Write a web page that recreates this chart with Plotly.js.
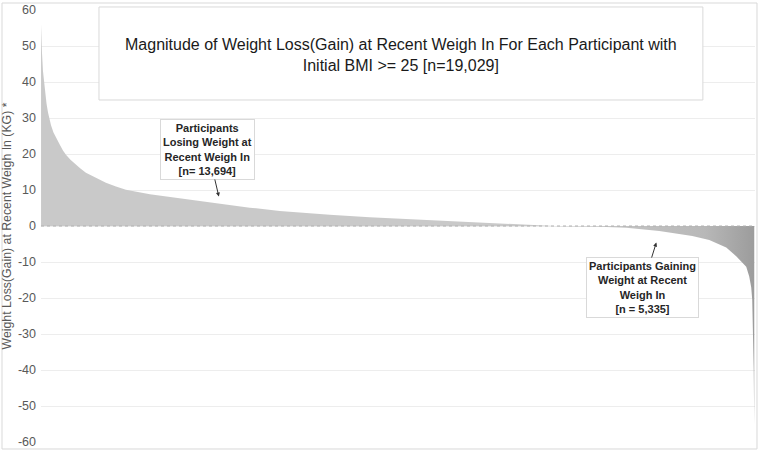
<!DOCTYPE html>
<html>
<head>
<meta charset="utf-8">
<script src="https://cdn.plot.ly/plotly-3.0.1.min.js"></script>
<style>
html,body{margin:0;padding:0;background:#fff;}
#chart{width:760px;height:453px;}
</style>
</head>
<body>
<div id="chart"></div>
<script>
// Participant rank (sorted by weight change) and weight loss(gain) in kg
const participantRank = [1, 8, 27, 53, 80, 107, 147, 187, 227, 267, 333, 400, 506, 586, 666, 786, 906, 1052, 1199, 1466, 1732, 2000, 2265, 2905, 3838, 4690, 5570, 6369, 6902, 7702, 8768, 10367, 11699, 13032, 13378, 13831, 14897, 15617, 16496, 17376, 17829, 18282, 18548, 18815, 18895, 18948, 18975, 19001, 19015, 19029];
const weightLossKg = [56, 53, 48, 43, 40, 37, 34, 31.5, 29.5, 28, 26, 24.5, 22.5, 21, 19.8, 18.4, 17.2, 16, 14.8, 13.3, 12, 11, 10.1, 8.8, 7.5, 6.4, 5.1, 4.2, 3.7, 3.1, 2.4, 1.6, 0.95, 0.3, 0.05, -0.05, -0.2, -0.5, -1.4, -2.8, -3.9, -6, -8.4, -11.3, -14, -17, -20.5, -30, -40, -55];
const yTicks = [-60, -50, -40, -30, -20, -10, 0, 10, 20, 30, 40, 50, 60];
const nTotal = 19029;
const titleText = "Magnitude of Weight Loss(Gain) at Recent Weigh In For Each Participant with<br>Initial BMI >= 25 [n=19,029]";
const yTitleText = "Weight Loss(Gain) at Recent Weigh In (KG) *";
const losingLabel = "Participants<br>Losing Weight at<br>Recent Weigh In<br>[n= 13,694]";
const gainingLabel = "Participants Gaining<br>Weight at Recent<br>Weigh In<br>[n = 5,335]";

const trace = {
  type: 'scatter',
  mode: 'lines',
  x: participantRank,
  y: weightLossKg,
  line: {width: 0, color: '#c8c8c8', shape: 'linear'},
  fill: 'tozeroy',
  fillcolor: '#c9c9c9',
  fillgradient: {
    type: 'horizontal',
    colorscale: [[0, '#c9c9c9'], [0.75, '#c9c9c9'], [0.93, '#b8b8b8'], [1, '#9c9c9c']],
    start: 0,
    stop: nTotal
  },
  hoverinfo: 'skip'
};

const font = "'Liberation Sans', Arial, sans-serif";

const layout = {
  width: 760,
  height: 453,
  margin: {l: 41, r: 5, t: 10, b: 11},
  paper_bgcolor: '#ffffff',
  plot_bgcolor: '#ffffff',
  showlegend: false,
  font: {family: font, color: '#595959', size: 12},
  xaxis: {
    range: [0, nTotal + 20],
    showgrid: false,
    zeroline: false,
    showticklabels: false,
    showline: false,
    ticks: ''
  },
  yaxis: {
    range: [-60, 60],
    tickvals: yTicks,
    ticktext: yTicks.map(String),
    showgrid: true,
    gridcolor: '#ededed',
    gridwidth: 1,
    zeroline: false,
    showline: false,
    ticks: '',
    ticklabelstandoff: 4,
    tickfont: {family: font, size: 12.5, color: '#595959'},
    title: {text: yTitleText, font: {family: font, size: 12.3, color: '#595959'}, standoff: 6}
  },
  shapes: [
    // outer frame
    {type: 'rect', xref: 'paper', yref: 'paper', x0: -0.0546, x1: 1.0028, y0: -0.0162, y1: 1.0162,
     line: {color: '#d9d9d9', width: 1}, fillcolor: 'rgba(0,0,0,0)', layer: 'below'},
    // zero baseline
    {type: 'line', xref: 'paper', yref: 'y', x0: 0, x1: 1, y0: 0, y1: 0,
     line: {color: '#b0b0b0', width: 1, dash: 'dot'}, layer: 'above'},
    // title box
    {type: 'rect', xref: 'paper', yref: 'paper', x0: 0.0812, x1: 0.927, y0: 0.7917, y1: 1.007,
     line: {color: '#d9d9d9', width: 1}, fillcolor: '#ffffff', layer: 'above'}
  ],
  annotations: [
    {xref: 'paper', yref: 'paper', x: 0.504, y: 0.896, xanchor: 'center', yanchor: 'middle',
     text: titleText, showarrow: false, align: 'center',
     font: {family: font, size: 16, color: '#1a1a1a'}},
    {x: 4744, y: 8.2, xref: 'x', yref: 'y', text: losingLabel, showarrow: true,
     ax: -11, ay: -47, arrowhead: 2, arrowsize: 0.8, arrowwidth: 1, arrowcolor: '#333333',
     bgcolor: '#ffffff', bordercolor: '#d9d9d9', borderwidth: 1, borderpad: 2, align: 'center',
     font: {family: font, size: 11, color: '#262626', weight: 'bold'}},
    {x: 16416, y: -4.6, xref: 'x', yref: 'y', text: gainingLabel, showarrow: true,
     ax: -14, ay: 45, arrowhead: 2, arrowsize: 0.8, arrowwidth: 1, arrowcolor: '#333333',
     bgcolor: '#ffffff', bordercolor: '#d9d9d9', borderwidth: 1, borderpad: 2, align: 'center',
     font: {family: font, size: 11, color: '#262626', weight: 'bold'}}
  ]
};

Plotly.newPlot('chart', [trace], layout, {staticPlot: true, displayModeBar: false});
</script>
</body>
</html>
